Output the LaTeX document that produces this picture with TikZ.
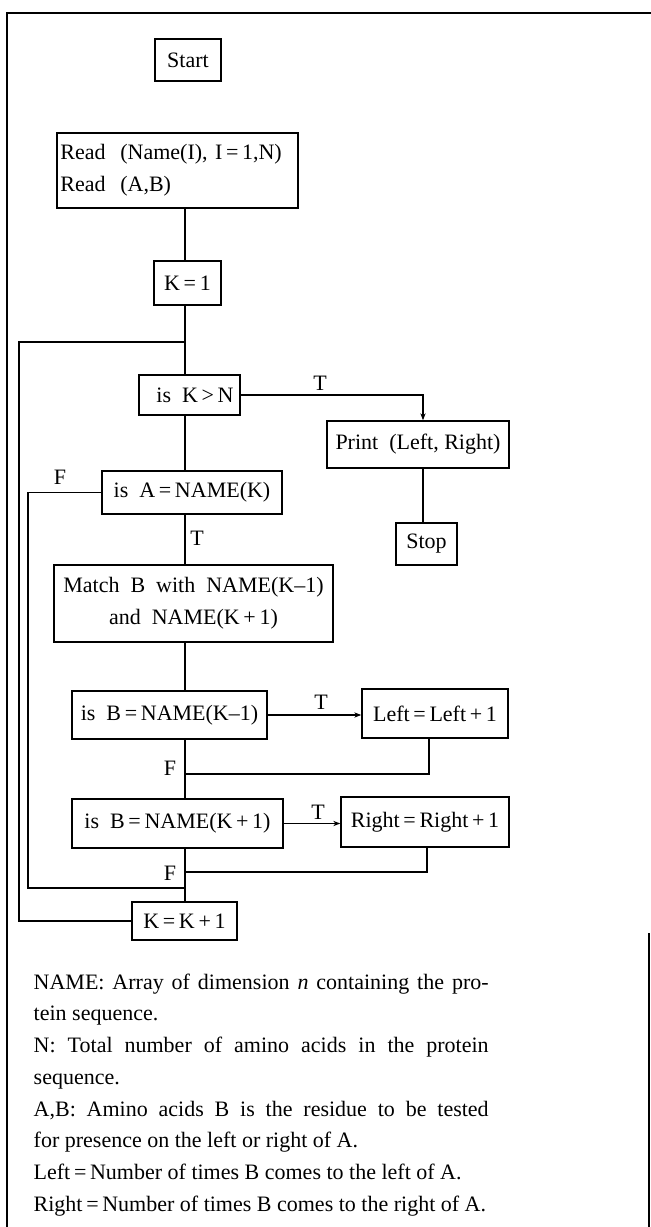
\documentclass[tikz,border=0pt]{standalone}
\usepackage{fontspec}
\setmainfont{Liberation Serif}
\usetikzlibrary{arrows.meta}
\newcommand\flowfont{\fontsize{11}{15.85}\selectfont}
\begin{document}
\begin{tikzpicture}[x=0.5pt,y=-0.5pt,line width=0.7pt,
  box/.style={draw,inner sep=0pt,align=center,font=\flowfont},
  lbl/.style={inner sep=0pt,font=\flowfont},
  arr/.style={-{Stealth[length=3.5pt,width=2.6pt]}}]
\useasboundingbox (0,0) rectangle (651,1227);
% frame
\coordinate (f1) at (651,13);
\coordinate (f2) at (7,13);
\coordinate (f3) at (7,1227);
\coordinate (f4) at (649,933);
\coordinate (f5) at (649,1227);
\draw (f1) -- (f2) -- (f3);
\draw (f4) -- (f5);
% spine and branch columns
\coordinate (sp) at (185,0);
\coordinate (pr) at (423,0);
\coordinate (lx) at (429,0);
\coordinate (rx) at (427,0);
% boxes
\node[box,minimum width=33pt,minimum height=21pt] (start) at (188,60) {Start};
\node[box,text width=117pt,inner xsep=1.75pt,minimum height=37.5pt,align=left] (read) at (177.5,170.5)
  {Read\ \ (Name(I),\ I\,=\,1,N)\\Read\ \ (A,B)};
\node[box,minimum width=33.5pt,minimum height=22pt] (k1) at (187.5,283) {K\,=\,1};
\node[box,minimum width=50.5pt,minimum height=20pt] (kn) at (189.5,395) {\ \ is\ \ K\,>\,N};
\node[box,minimum width=91pt,minimum height=23.5pt] (print) at (418,444.5) {Print\ \ (Left,\ Right)};
\node[box,minimum width=30.5pt,minimum height=21pt] (stop) at (426.5,544) {Stop};
\node[box,minimum width=90pt,minimum height=21.5pt] (a) at (192,492.5) {is\ \ A\,=\,NAME(K)};
\node[box,minimum width=139.5pt,minimum height=38.5pt] (match) at (193.5,603.5)
  {Match\ \ B\ \ with\ \ NAME(K–1)\\and\ \ NAME(K\,+\,1)};
\node[box,minimum width=97.5pt,minimum height=24pt] (bl) at (169.5,715) {is\ \ B\,=\,NAME(K–1)};
\node[box,minimum width=73pt,minimum height=24.5pt] (nleft) at (435,713.5) {Left\,=\,Left\,+\,1};
\node[box,minimum width=105.5pt,minimum height=24.5pt] (br) at (177.5,823.5) {is\ \ B\,=\,NAME(K\,+\,1)};
\node[box,minimum width=84pt,minimum height=25pt] (nright) at (425,822) {Right\,=\,Right\,+\,1};
\node[box,minimum width=52.5pt,minimum height=19pt] (kk) at (184.5,921) {K\,=\,K\,+\,1};
% junction coordinates
\coordinate (j1) at (185,774);
\coordinate (j2) at (185,872);
\coordinate (fa) at (28,888);
\coordinate (fj) at (185,888);
\coordinate (lp) at (19,342);
\coordinate (lj) at (185,342);
% connectors
\draw (read.south -| sp) -- (k1.north -| sp);
\draw (k1.south -| sp) -- (kn.north -| sp);
\draw (kn.south -| sp) -- (a.north -| sp);
\draw[arr] (kn.east) -- (kn.east -| pr) -- (print.north -| pr);
\draw (print.south -| pr) -- (stop.north -| pr);
\draw (a.south -| sp) -- (match.north -| sp);
\draw (match.south -| sp) -- (bl.north -| sp);
\draw[arr] (bl.east) -- (bl.east -| nleft.west);
\draw (nleft.south -| lx) |- (j1);
\draw (bl.south -| sp) -- (br.north -| sp);
\draw[arr] (br.east) -- (br.east -| nright.west);
\draw (nright.south -| rx) |- (j2);
\draw (br.south -| sp) -- (kk.north -| sp);
\draw (a.west) -| (fa) -- (fj);
\draw (kk.west) -| (lp) -- (lj);
% labels
\node[lbl] (t1) at (320,383) {T};
\node[lbl] (f1l) at (60,477) {F};
\node[lbl] (t2) at (197,538) {T};
\node[lbl] (t3) at (321,702) {T};
\node[lbl] (f2l) at (170,768) {F};
\node[lbl] (t4) at (318,812) {T};
\node[lbl] (f3l) at (170,873) {F};
% notes
\node[anchor=north west,text width=227.5pt,inner sep=0pt,align=justify,font=\flowfont] (notes) at (33,973)
{NAME: Array of dimension \emph{n} containing the pro-\linebreak
tein sequence.\par
N: Total number of amino acids in the protein\linebreak
sequence.\par
A,B: Amino acids B is the residue to be tested\linebreak
for presence on the left or right of A.\par
\mbox{Left\,=\,Number of times B comes to the left of A.}\par
\mbox{Right\,=\,Number of times B comes to the right of A.}};
\end{tikzpicture}
\end{document}
